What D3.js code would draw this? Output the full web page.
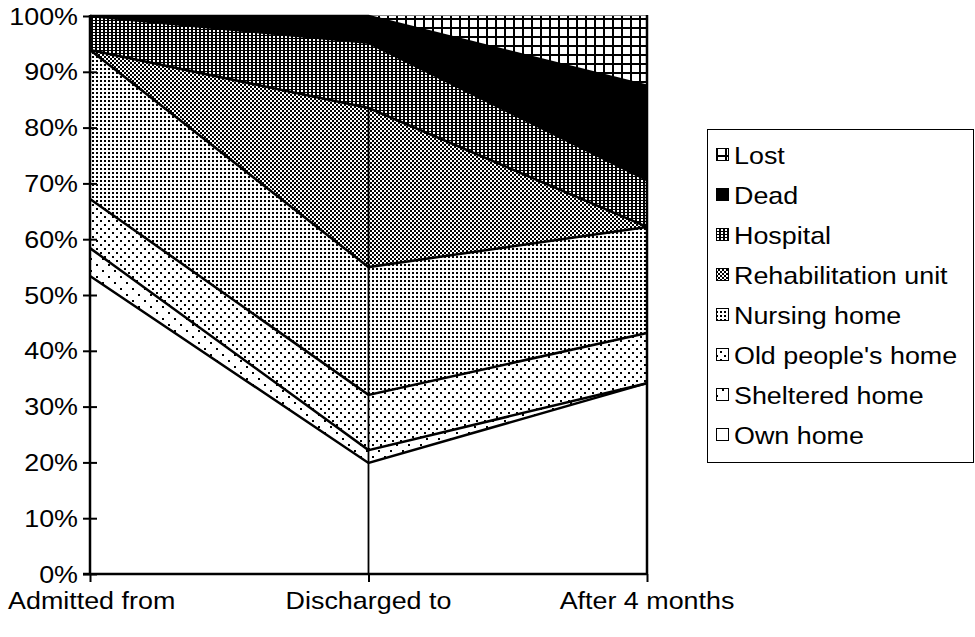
<!DOCTYPE html>
<html>
<head>
<meta charset="utf-8">
<script src="https://cdn.jsdelivr.net/npm/d3@7"></script>
<style>
  html, body { margin: 0; padding: 0; background: #fff; }
  svg { display: block; }
  text { font-family: "Liberation Sans", Arial, Helvetica, sans-serif; fill: #000; }
</style>
</head>
<body>
<svg id="chart" width="975" height="637"></svg>
<script>
// ---- data (percent of patients) ----
const categories = ["Admitted from", "Discharged to", "After 4 months"];
const seriesNames = ["Own home", "Sheltered home", "Old people's home", "Nursing home",
                     "Rehabilitation unit", "Hospital", "Dead", "Lost"];
const ownHome            = [53.4, 19.9, 34.2];
const shelteredHome      = [5.0, 2.3, 0.0];
const oldPeoplesHome     = [8.8, 9.9, 9.0];
const nursingHome        = [26.7, 22.9, 19.0];
const rehabilitationUnit = [0.0, 28.5, 0.0];
const hospital           = [6.1, 11.7, 8.4];
const dead               = [0.0, 4.8, 16.9];
const lost               = [0.0, 0.0, 12.5];
const yTicks = [0, 10, 20, 30, 40, 50, 60, 70, 80, 90, 100];

const seriesValues = [ownHome, shelteredHome, oldPeoplesHome, nursingHome,
                      rehabilitationUnit, hospital, dead, lost];
const patternIds = ["p-own", "p-shel", "p-old", "p-nurs", "p-rehab", "p-hosp", "p-dead", "p-lost"];

const rows = categories.map((c, i) => {
  const r = { category: c };
  seriesNames.forEach((n, j) => r[n] = seriesValues[j][i]);
  return r;
});

const svg = d3.select("#chart");
const SX = 1.12; // horizontal stretch of the original lettering
const FS = 24;

// ---- patterns ----
const defs = svg.append("defs");
function pat(id, w, h, bg, rects, fg) {
  const p = defs.append("pattern").attr("id", id).attr("patternUnits", "userSpaceOnUse")
    .attr("width", w).attr("height", h);
  p.append("rect").attr("width", w).attr("height", h).attr("fill", bg);
  rects.forEach(r => p.append("rect").attr("x", r[0]).attr("y", r[1])
    .attr("width", r[2]).attr("height", r[3]).attr("fill", fg));
}
pat("p-own", 4, 4, "#fff", [], "#000");
pat("p-shel", 12, 12, "#fff", [[0, 0, 2, 2], [6, 6, 2, 2]], "#000");
pat("p-old", 8, 8, "#fff", [[0, 0, 2, 2], [4, 4, 2, 2]], "#000");
pat("p-nurs", 4, 4, "#fff", [[0, 0, 2, 2]], "#000");
pat("p-rehab", 4, 4, "#fff", [[0, 0, 2, 2], [2, 2, 2, 2]], "#000");
pat("p-hosp", 4, 3, "#000", [[1, 0, 2, 2]], "#fff");
pat("p-dead", 4, 4, "#000", [], "#000");
pat("p-lost", 9, 9, "#000", [[2, 2, 7, 7]], "#fff");

// ---- scales ----
const x = d3.scalePoint().domain(categories).range([90, 647]);
const y = d3.scaleLinear().domain([0, 100]).range([574, 16]);

const stack = d3.stack().keys(seriesNames);
const layers = stack(rows);

const area = d3.area()
  .x(d => x(d.data.category))
  .y0(d => y(d[0]))
  .y1(d => y(d[1]));
const line = d3.line()
  .x(d => x(d.data.category))
  .y(d => y(d[1]));

const plot = svg.append("g");
plot.selectAll("path.area").data(layers).join("path")
  .attr("class", "area")
  .attr("d", area)
  .attr("fill", (d, i) => `url(#${patternIds[i]})`)
  .attr("stroke", "none");

// plot frame top (light)
plot.append("line")
  .attr("x1", x.range()[0]).attr("x2", x.range()[1])
  .attr("y1", y(100) - 0.5).attr("y2", y(100) - 0.5)
  .attr("stroke", "#888").attr("stroke-width", 1);

// boundary lines between layers
plot.selectAll("path.edge").data(layers.slice(0, layers.length - 1)).join("path")
  .attr("class", "edge")
  .attr("d", line)
  .attr("fill", "none")
  .attr("stroke", "#000")
  .attr("stroke-width", 2.5)
  .attr("stroke-linejoin", "miter");

// vertical line at the middle category up to the top of the rehabilitation layer
const midCat = categories[1];
const rehabIdx = seriesNames.indexOf("Rehabilitation unit");
plot.append("line")
  .attr("x1", x(midCat)).attr("x2", x(midCat))
  .attr("y1", y(0)).attr("y2", y(layers[rehabIdx][1][1]))
  .attr("stroke", "#000").attr("stroke-width", 1.8);

// right edge of the areas
plot.append("line")
  .attr("x1", x(categories[2])).attr("x2", x(categories[2]))
  .attr("y1", y(0)).attr("y2", y(100) - 1)
  .attr("stroke", "#000").attr("stroke-width", 2.5);

// ---- y axis ----
const yAxis = svg.append("g").attr("transform", `translate(${x.range()[0]},0)`)
  .call(d3.axisLeft(y).tickValues(yTicks).tickSize(0).tickFormat(""));
yAxis.select(".domain").attr("stroke", "#000").attr("stroke-width", 2.5)
  .attr("d", `M0,${y(100) - 1}V${y(0) + 1}`);
yAxis.selectAll(".tick line").attr("x1", -7).attr("x2", 7)
  .attr("stroke", "#000").attr("stroke-width", 2);

svg.append("g").selectAll("text.ylab").data(yTicks).join("text")
  .attr("class", "ylab")
  .attr("transform", d => `translate(78,${y(d)}) scale(${SX},1)`)
  .attr("dy", "0.36em")
  .attr("text-anchor", "end")
  .style("font-size", FS + "px")
  .text(d => d + "%");

// ---- x axis ----
const xAxis = svg.append("g").attr("transform", `translate(0,${y(0)})`)
  .call(d3.axisBottom(x).tickSize(8).tickSizeOuter(0).tickFormat(""));
xAxis.select(".domain").attr("stroke", "#000").attr("stroke-width", 2.5)
  .attr("d", `M${x.range()[0] - 7},0H${x.range()[1]}`);
xAxis.selectAll(".tick line").attr("stroke", "#000").attr("stroke-width", 2);

const catLab = svg.append("g").selectAll("text.xlab").data(categories).join("text")
  .attr("class", "xlab")
  .attr("text-anchor", "middle")
  .style("font-size", FS + "px")
  .text(d => d);
catLab.each(function (d) {
  const w = this.getComputedTextLength() * SX;
  let cx = x(d);
  if (cx - w / 2 < 8) cx = 8 + w / 2;
  d3.select(this).attr("transform", `translate(${cx},609) scale(${SX},1)`);
});

// ---- legend ----
const legend = svg.append("g");
legend.append("rect")
  .attr("x", 707.5).attr("y", 129.5).attr("width", 266).attr("height", 333)
  .attr("fill", "#fff").attr("stroke", "#000").attr("stroke-width", 1);
const legendOrder = seriesNames.map((n, i) => i).reverse();
const ly = d3.scalePoint().domain(legendOrder).range([155, 435]);
const items = legend.selectAll("g.item").data(legendOrder).join("g")
  .attr("class", "item")
  .attr("transform", i => `translate(716,${ly(i)})`);
items.append("rect")
  .attr("x", 0.5).attr("y", -6.5).attr("width", 12).attr("height", 12)
  .attr("fill", i => `url(#${patternIds[i]})`)
  .attr("stroke", "#000").attr("stroke-width", 1);
items.append("text")
  .attr("transform", `translate(18,8.5) scale(${SX},1)`)
  .style("font-size", FS + "px")
  .text(i => seriesNames[i]);
</script>
</body>
</html>
